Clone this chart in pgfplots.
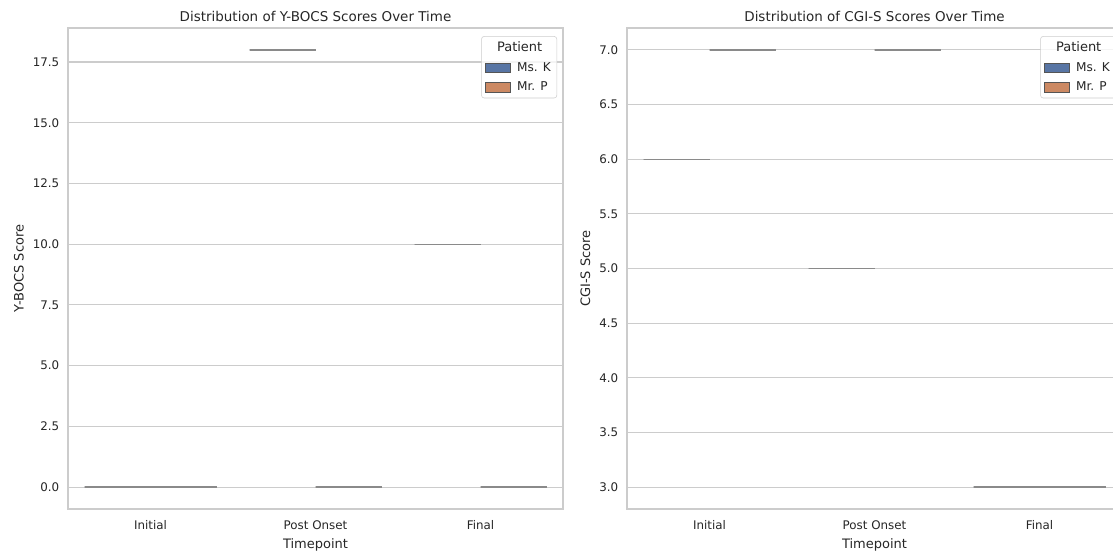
\documentclass[border=0pt]{standalone}
\usepackage{pgfplots}
\pgfplotsset{compat=1.18}
\usepgfplotslibrary{statistics}
\usepackage{fontspec}
\setmainfont{DejaVu Sans}
\definecolor{txt}{HTML}{262626}
\definecolor{gridc}{HTML}{CCCCCC}
\definecolor{msk}{HTML}{5875A4}
\definecolor{mrp}{HTML}{CC8963}
\definecolor{boxc}{HTML}{555555}
\definecolor{boxl}{HTML}{8A8A8A}
\definecolor{boxd}{HTML}{5E5E5E}
\pgfplotsset{
  mystyle/.style={
    scale only axis, width=371.25pt, height=360.75pt,
    anchor=south west,
    xmin=-0.5, xmax=2.5, xtick={0,1,2}, xticklabels={Initial, Post Onset, Final},
    axis line style={gridc, line width=0.8pt},
    major tick length=0pt,
    ymajorgrids, grid style={gridc, line width=0.8pt},
    tick label style={font=\fontsize{8.9}{10}\selectfont, text=txt},
    xticklabel style={yshift=-5pt},
    yticklabel style={xshift=-3pt},
    label style={font=\fontsize{9.75}{11}\selectfont, text=txt},
    title style={font=\fontsize{10.1}{11.5}\selectfont, text=txt, yshift=-5pt},
    /pgf/number format/assume math mode=true,
    yticklabel style={/pgf/number format/.cd, fixed, fixed zerofill, precision=1},
    xlabel={Timepoint},
    legend style={at={(rel axis cs:0.988,0.983)}, anchor=north east,
      draw=gridc, rounded corners=2pt, fill=white, fill opacity=0.8, text opacity=1,
      font=\fontsize{9.1}{10.5}\selectfont, text=txt, cells={anchor=west},
      inner xsep=2.5pt, inner ysep=2pt, row sep=2.5pt, column sep=3pt},
    boxplot/draw direction=y,
    boxplot/box extend=0.4, boxplot/whisker extend=0.2,
    boxplot/every box/.style={draw=boxl},
    boxplot/every median/.style={draw=boxl},
    boxplot/every whisker/.style={draw=boxd},
  },
  legimg/.style={legend image code/.code={\draw[##1, sharp corners, fill opacity=1, draw opacity=1] (0pt,-3.4pt) rectangle (18.75pt,3.4pt);}},
  bx/.style={draw=boxl, line width=1pt, forget plot},
}
\begin{document}
\begin{tikzpicture}
% Y-BOCS
\begin{axis}[mystyle, at={(51pt,32.25pt)},
  ymin=-0.9, ymax=18.9, ytick={0,2.5,...,17.5},
  ylabel={Y-BOCS Score},
  title={Distribution of Y-BOCS Scores Over Time}]
\addplot[bx, fill=msk, boxplot prepared={draw position=-0.2, lower whisker=0, lower quartile=0, median=0, upper quartile=0, upper whisker=0}] coordinates {};
\addplot[bx, fill=mrp, boxplot prepared={draw position=0.2, lower whisker=0, lower quartile=0, median=0, upper quartile=0, upper whisker=0}] coordinates {};
\addplot[bx, fill=msk, boxplot prepared={draw position=0.8, lower whisker=18, lower quartile=18, median=18, upper quartile=18, upper whisker=18}] coordinates {};
\addplot[bx, fill=mrp, boxplot prepared={draw position=1.2, lower whisker=0, lower quartile=0, median=0, upper quartile=0, upper whisker=0}] coordinates {};
\addplot[bx, fill=msk, boxplot prepared={draw position=1.8, lower whisker=10, lower quartile=10, median=10, upper quartile=10, upper whisker=10}] coordinates {};
\addplot[bx, fill=mrp, boxplot prepared={draw position=2.2, lower whisker=0, lower quartile=0, median=0, upper quartile=0, upper whisker=0}] coordinates {};
\addlegendimage{empty legend}\addlegendentry{\hspace*{-15pt}\fontsize{9.75}{11}\selectfont Patient}
\addlegendimage{legimg, fill=msk, draw=boxc}\addlegendentry{Ms. K}
\addlegendimage{legimg, fill=mrp, draw=boxc}\addlegendentry{Mr. P}
\end{axis}
% CGI-S
\begin{axis}[mystyle, at={(470.25pt,32.25pt)},
  ymin=2.8, ymax=7.2, ytick={3,3.5,...,7},
  ylabel={CGI-S Score},
  title={Distribution of CGI-S Scores Over Time}]
\addplot[bx, fill=msk, boxplot prepared={draw position=-0.2, lower whisker=6, lower quartile=6, median=6, upper quartile=6, upper whisker=6}] coordinates {};
\addplot[bx, fill=mrp, boxplot prepared={draw position=0.2, lower whisker=7, lower quartile=7, median=7, upper quartile=7, upper whisker=7}] coordinates {};
\addplot[bx, fill=msk, boxplot prepared={draw position=0.8, lower whisker=5, lower quartile=5, median=5, upper quartile=5, upper whisker=5}] coordinates {};
\addplot[bx, fill=mrp, boxplot prepared={draw position=1.2, lower whisker=7, lower quartile=7, median=7, upper quartile=7, upper whisker=7}] coordinates {};
\addplot[bx, fill=msk, boxplot prepared={draw position=1.8, lower whisker=3, lower quartile=3, median=3, upper quartile=3, upper whisker=3}] coordinates {};
\addplot[bx, fill=mrp, boxplot prepared={draw position=2.2, lower whisker=3, lower quartile=3, median=3, upper quartile=3, upper whisker=3}] coordinates {};
\addlegendimage{empty legend}\addlegendentry{\hspace*{-15pt}\fontsize{9.75}{11}\selectfont Patient}
\addlegendimage{legimg, fill=msk, draw=boxc}\addlegendentry{Ms. K}
\addlegendimage{legimg, fill=mrp, draw=boxc}\addlegendentry{Mr. P}
\end{axis}
\pgfresetboundingbox
\useasboundingbox (0pt,0pt) rectangle (834.75pt,414pt);
\end{tikzpicture}
\end{document}
